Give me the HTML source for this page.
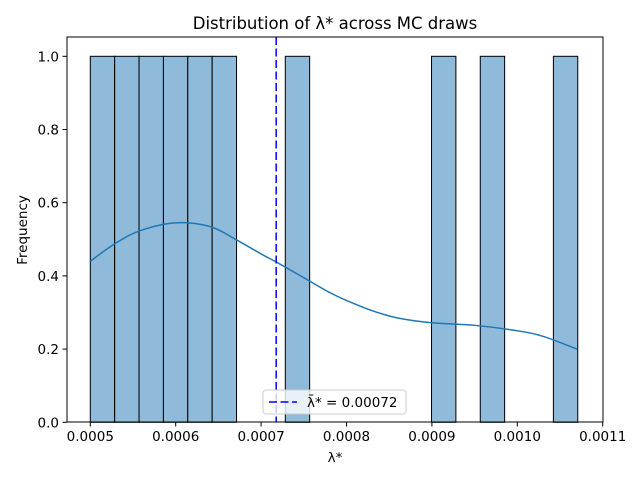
<!DOCTYPE html>
<html><head><meta charset="utf-8"><style>
body{margin:0;background:#fff}
svg text{font-family:"DejaVu Sans","Liberation Sans",sans-serif;fill:#000}
</style></head><body>
<svg id="chart" width="640" height="480" xmlns="http://www.w3.org/2000/svg">
<rect width="640" height="480" fill="#fff"/>
<g id="bars"></g>
<g id="kde"></g>
<g id="axes"></g>
</svg>
<script>
const binStart = 0.0005;
const binWidth = 0.00002854;
const binCounts = [1,1,1,1,1,1,0,0,1,0,0,0,0,0,1,0,1,0,0,1];
const kdeX = [0.0005,0.00053,0.00056,0.0006,0.00064,0.00067,0.0007,0.00072,0.00075,0.00078,0.0008,0.00083,0.00086,0.0009,0.00095,0.001,0.00103,0.00107];
const kdeY = [0.44,0.49,0.525,0.545,0.535,0.50,0.46,0.435,0.395,0.355,0.333,0.305,0.285,0.272,0.265,0.25,0.235,0.20];
const meanValue = 0.00072;
const xTicks = [0.0005,0.0006,0.0007,0.0008,0.0009,0.0010,0.0011];
const xTickLabels = ["0.0005","0.0006","0.0007","0.0008","0.0009","0.0010","0.0011"];
const yTicks = [0,0.2,0.4,0.6,0.8,1.0];
const yTickLabels = ["0.0","0.2","0.4","0.6","0.8","1.0"];

const L=67,R=603,T=37,B=422;
const x=v=>90.3+(v-0.0005)/0.0001*85.4;
const y=v=>422.3-v*366;
const NS="http://www.w3.org/2000/svg";
function mk(tag,attrs,parent){const e=document.createElementNS(NS,tag);for(const k in attrs)e.setAttribute(k,attrs[k]);parent.appendChild(e);return e;}
const bars=document.getElementById('bars'),kde=document.getElementById('kde'),axes=document.getElementById('axes');
binCounts.forEach((c,i)=>{if(!c)return;
  const x0=x(binStart+i*binWidth),x1=x(binStart+(i+1)*binWidth);
  const r=mk('rect',{x:x0,y:y(c),width:x1-x0,height:y(0)-y(c),fill:'#8fbad9',stroke:'#000','stroke-width':1},bars);
  
  
});
const pts=kdeX.map((v,i)=>[x(v),y(kdeY[i])]);
let d='M'+pts[0][0]+','+pts[0][1];
for(let i=0;i<pts.length-1;i++){
  const p0=pts[Math.max(0,i-1)],p1=pts[i],p2=pts[i+1],p3=pts[Math.min(pts.length-1,i+2)];
  const c1=[p1[0]+(p2[0]-p0[0])/6,p1[1]+(p2[1]-p0[1])/6],c2=[p2[0]-(p3[0]-p1[0])/6,p2[1]-(p3[1]-p1[1])/6];
  d+=' C'+c1+' '+c2+' '+p2;
}
const p=mk('path',{d:d,fill:'none',stroke:'#1f77b4','stroke-width':1.5},kde);


const ml=mk('line',{x1:x(meanValue)-2,x2:x(meanValue)-2,y1:T,y2:B,stroke:'#0000ff','stroke-width':1.5,'stroke-dasharray':'8,3.5'},kde);


const fr=mk('rect',{x:L,y:T,width:R-L,height:B-T,fill:'none',stroke:'#000','stroke-width':1},axes);


xTicks.forEach((v,i)=>{
  mk('line',{x1:x(v),x2:x(v),y1:B,y2:B+4.5,stroke:'#000'},axes);
  const t=mk('text',{x:x(v),y:B+19,'text-anchor':'middle','font-size':13.5},axes);
  t.textContent=xTickLabels[i];
  
  
});
yTicks.forEach((v,i)=>{
  mk('line',{x1:L-4.5,x2:L,y1:y(v),y2:y(v),stroke:'#000'},axes);
  const t=mk('text',{x:L-8,y:y(v)+5,'text-anchor':'end','font-size':13.5},axes);
  t.textContent=yTickLabels[i];
  
  
});
</script>
<svg style="position:absolute;left:0;top:0" width="640" height="480" xmlns="http://www.w3.org/2000/svg">
<text x="335" y="29" text-anchor="middle" font-size="16.5">Distribution of λ* across MC draws</text>
<text x="335" y="462" text-anchor="middle" font-size="13.5">λ*</text>
<text x="27" y="230" text-anchor="middle" font-size="13.5" transform="rotate(-90 27 230)">Frequency</text>
<g>
<rect x="263" y="390" width="143" height="24" rx="3" fill="#fff" fill-opacity="0.8" stroke="#ccc"/>
<line x1="269" x2="297" y1="402" y2="402" stroke="#0000ff" stroke-width="1.5" stroke-dasharray="8,3.5"/>
<text x="307" y="407" font-size="13.5">λ̄* = 0.00072</text>
</g>
</svg>
</body></html>
